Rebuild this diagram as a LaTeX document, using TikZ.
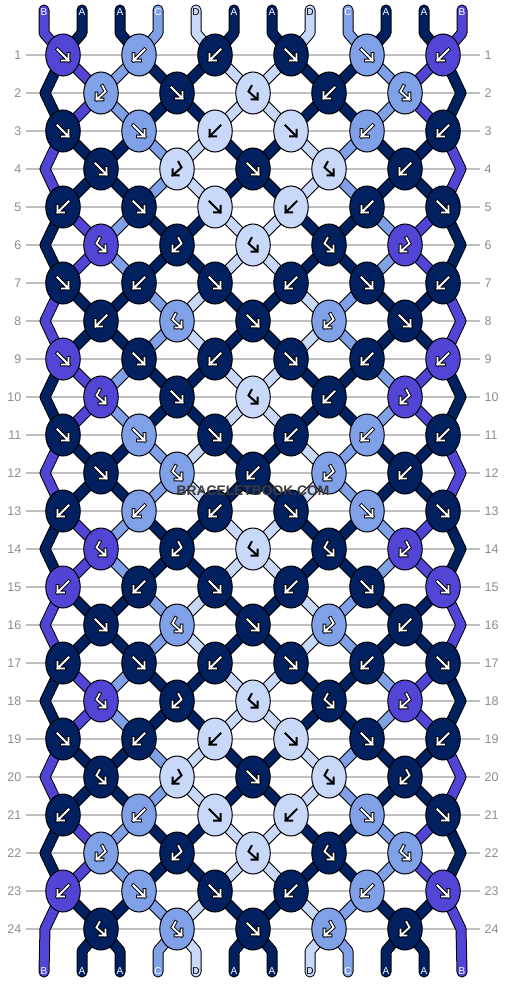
\documentclass[tikz,border=0pt]{standalone}
\usepackage{fontspec}
\setmainfont{Liberation Sans}
\usetikzlibrary{shapes.geometric}
\definecolor{colA}{RGB}{0,32,96}
\definecolor{colB}{RGB}{82,68,212}
\definecolor{colC}{RGB}{128,160,232}
\definecolor{colD}{RGB}{200,216,248}
\definecolor{rowgray}{RGB}{192,192,192}
\definecolor{numgray}{RGB}{140,140,140}
\definecolor{stampgray}{RGB}{60,60,60}
\pgfdeclarelayer{grid}
\pgfdeclarelayer{back}
\pgfsetlayers{grid,back,main}
% knot symbols (pixel units, y down)
\def\gpfw{(-5.5,-5.5) -- (5.5,5.5) (5.5,-1) -- (5.5,5.5) -- (-1,5.5)}
\def\gpbw{(5.5,-5.5) -- (-5.5,5.5) (-5.5,-1) -- (-5.5,5.5) -- (1,5.5)}
\def\gpfb{(-1.5,-7) -- (-4.5,-1.5) -- (4.5,6.5) (4.5,0.5) -- (4.5,6.5) -- (-1.5,6.5)}
\def\gpbf{(1.5,-7) -- (4.5,-1.5) -- (-4.5,6.5) (-4.5,0.5) -- (-4.5,6.5) -- (1.5,6.5)}
% string colours: after rows 3,4,7,8,... and after rows 1,2,5,6,...
\def\stA{{"colB","colA","colA","colC","colD","colA","colA","colD","colC","colA","colA","colB"}}
\def\stB{{"colA","colB","colC","colA","colA","colD","colD","colA","colA","colC","colB","colA"}}
\newcommand\knotof[2]{%
  \ifodd#1\relax\pgfmathtruncatemacro\kj{(#2-1)/2}%
  \else\pgfmathtruncatemacro\kj{(#2-2)/2}\fi
  \edef\pn{k#1-\kj}}
\begin{document}
\begin{tikzpicture}[x=1pt, y=-1pt,
  knot/.style={ellipse, draw=black, line width=1pt, minimum width=34.5pt, minimum height=42pt, inner sep=0pt},
  strand/.style={draw=black, line width=1pt, double=#1, double distance=9pt, line cap=round, line join=round},
  rowline/.style={rowgray, line width=1.2pt},
  rownum/.style={text=numgray, font=\fontsize{12.5}{12.5}\selectfont, inner sep=0pt},
  endtag/.style={font=\fontsize{10}{10}\selectfont, inner sep=0pt},
  stamp/.style={font=\bfseries\fontsize{13.8}{13.8}\selectfont, inner sep=0pt},
  haloA/.style={draw=black, line width=3.6pt}, haloB/.style={haloA}, haloC/.style={haloA},
  haloD/.style={draw=none},
  inkA/.style={draw=white, line width=1.8pt}, inkB/.style={inkA}, inkC/.style={inkA},
  inkD/.style={draw=black, line width=2pt},
  pics/glyph/.style 2 args={code={%
    \expandafter\let\expandafter\gpath\csname gp#1\endcsname
    \draw[halo#2, line cap=rect] \gpath;
    \draw[ink#2, line cap=rect] \gpath;}}]
\useasboundingbox (0,0) rectangle (506,984);

\begin{pgfonlayer}{grid}
\foreach \rw in {1,...,24}
  \draw[rowline] (26,17+38*\rw) -- (480,17+38*\rw);
\end{pgfonlayer}
\foreach \rw in {1,...,24}{
  \node[rownum, anchor=east] (nl\rw) at (21.5,17+38*\rw) {\rw};
  \node[rownum, anchor=west] (nr\rw) at (484.5,17+38*\rw) {\rw};
}

% knots: colour/symbol, left to right
\foreach \rw/\lst in {
  1/{B/fw,C/bw,A/bw,A/fw,C/fw,B/bw},
  2/{C/bf,A/fw,D/fb,A/bw,C/fb},
  3/{A/fw,C/fw,D/bw,D/fw,C/bw,A/bw},
  4/{A/fw,D/bf,A/fw,D/fb,A/bw},
  5/{A/bw,A/fw,D/fw,D/bw,A/bw,A/fw},
  6/{B/fb,A/bf,D/fb,A/fb,B/bf},
  7/{A/fw,A/bw,A/fw,A/bw,A/fw,A/bw},
  8/{A/bw,C/fb,A/fw,C/bf,A/fw},
  9/{B/fw,A/fw,A/bw,A/fw,A/bw,B/bw},
  10/{B/fb,A/fw,D/fb,A/bw,B/bf},
  11/{A/fw,C/fw,A/fw,A/bw,C/bw,A/bw},
  12/{A/fw,C/fb,A/bw,C/bf,A/bw},
  13/{A/bw,C/bw,A/bw,A/fw,C/fw,A/fw},
  14/{B/fb,A/bf,D/fb,A/fb,B/bf},
  15/{B/bw,A/bw,A/fw,A/bw,A/fw,B/fw},
  16/{A/fw,C/fb,A/fw,C/bf,A/bw},
  17/{A/bw,A/fw,A/bw,A/fw,A/bw,A/fw},
  18/{B/fb,A/bf,D/fb,A/fb,B/bf},
  19/{A/fw,A/bw,D/bw,D/fw,A/fw,A/bw},
  20/{A/fb,D/bf,A/fw,D/fb,A/bf},
  21/{A/bw,C/bw,D/fw,D/bw,C/fw,A/fw},
  22/{C/bf,A/bf,D/fb,A/fb,C/fb},
  23/{B/bw,C/fw,A/fw,A/bw,C/bw,B/fw},
  24/{A/fb,C/fb,A/fw,C/bf,A/bf}}{
  \foreach \kc/\kg [count=\kn from 0] in \lst {
    \node[knot, fill=col\kc] (k\rw-\kn) at ({63+38*(1-mod(\rw,2))+76*\kn},{17+38*\rw}) {};
    \pic at (k\rw-\kn.center) {glyph={\kg}{\kc}};
  }
}

\foreach \rw in {2,4,...,24}{
  \coordinate (eL\rw) at (45,17+38*\rw);
  \coordinate (eR\rw) at (461,17+38*\rw);
}
\foreach \ps/\lt/\tc in {1/B/white,2/A/white,3/A/white,4/C/white,5/D/black,6/A/white,
    7/A/white,8/D/black,9/C/white,10/A/white,11/A/white,12/B/white}{
  \coordinate (t\ps) at (6+38*\ps,10);
  \coordinate (tb\ps) at (6+38*\ps,33);
  \coordinate (bb\ps) at (6+38*\ps,951);
  \coordinate (b\ps) at (6+38*\ps,972);
  \node[endtag, text=\tc] (lt\ps) at (6+38*\ps,12) {\lt};
  \node[endtag, text=\tc] (lb\ps) at (6+38*\ps,971) {\lt};
}

\begin{pgfonlayer}{back}
\foreach \ps/\lt in {1/B,2/A,3/A,4/C,5/D,6/A,7/A,8/D,9/C,10/A,11/A,12/B}{
  \pgfmathtruncatemacro\kj{(\ps-1)/2}
  \draw[strand=col\lt] (t\ps) -- (tb\ps) -- (k1-\kj.center);
}
\foreach \ps/\lt in {2/A,3/A,4/C,5/D,6/A,7/A,8/D,9/C,10/A,11/A}{
  \pgfmathtruncatemacro\kj{(\ps-2)/2}
  \draw[strand=col\lt] (k24-\kj.center) -- (bb\ps) -- (b\ps);
}
\draw[strand=colB] (k23-0.center) -- (eL24) -- (b1);
\draw[strand=colB] (k23-5.center) -- (eR24) -- (b12);
% outer strings around the even rows
\foreach \rw/\ec in {2/A,4/B,6/A,8/B,10/A,12/B,14/A,16/B,18/A,20/B,22/A}{
  \pgfmathtruncatemacro\pv{\rw-1}
  \pgfmathtruncatemacro\nx{\rw+1}
  \draw[strand=col\ec] (k\pv-0.center) -- (eL\rw) -- (k\nx-0.center);
  \draw[strand=col\ec] (k\pv-5.center) -- (eR\rw) -- (k\nx-5.center);
}
% inner strings, row to row
\foreach \rw in {1,...,23}{
  \pgfmathtruncatemacro\nx{\rw+1}
  \pgfmathtruncatemacro\gst{mod(int((\rw-1)/2),2)}
  \foreach \ps in {2,...,11}{
    \knotof{\rw}{\ps}\let\ka\pn
    \knotof{\nx}{\ps}\let\kb\pn
    \ifnum\gst=0 \pgfmathparse{\stB[\ps-1]}\else\pgfmathparse{\stA[\ps-1]}\fi
    \let\scol\pgfmathresult
    \draw[strand=\scol] (\ka.center) -- (\kb.center);
  }
}
\end{pgfonlayer}

\node[stamp, text=stampgray] (wm) at (253,491) {BRACELETBOOK.COM};
\end{tikzpicture}
\end{document}
